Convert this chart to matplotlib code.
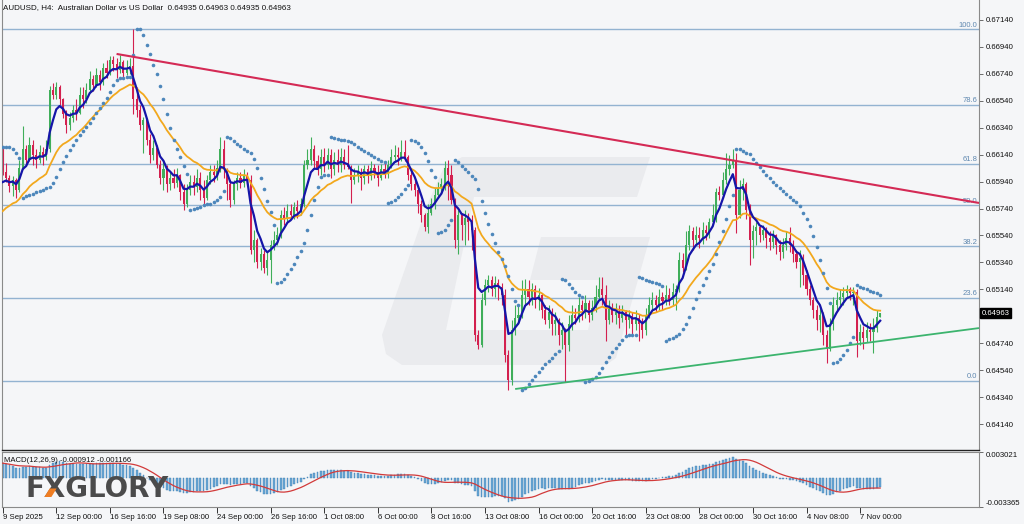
import numpy as np
import pandas as pd
import matplotlib
matplotlib.use("Agg")
import matplotlib.pyplot as plt
from matplotlib.patches import Polygon
from matplotlib.transforms import blended_transform_factory

# ---------------- data (prices in 1e-4 units) ----------------
first_open_x1e4 = 6616
close_x1e4 = [
    6601, 6597, 6591, 6595, 6588, 6604, 6618, 6610, 6621, 6614,
    6610, 6616, 6612, 6618, 6662, 6658, 6664, 6655, 6644, 6636,
    6641, 6647, 6645, 6658, 6655, 6662, 6670, 6666, 6673, 6668,
    6678, 6675, 6684, 6681, 6677, 6683, 6675, 6678, 6680, 6655,
    6647, 6636, 6640, 6625, 6614, 6619, 6606, 6597, 6603, 6592,
    6597, 6593, 6599, 6586, 6577, 6588, 6594, 6590, 6597, 6588,
    6582, 6595, 6601, 6599, 6604, 6618, 6603, 6592, 6580, 6592,
    6597, 6593, 6598, 6595, 6543, 6551, 6534, 6540, 6530, 6536,
    6547, 6551, 6554, 6569, 6567, 6572, 6569, 6575, 6572, 6577,
    6606, 6610, 6618, 6609, 6603, 6612, 6606, 6614, 6603, 6610,
    6606, 6612, 6606, 6605, 6595, 6599, 6601, 6597, 6603, 6598,
    6604, 6601, 6597, 6603, 6600, 6606, 6612, 6614, 6612, 6616,
    6612, 6599, 6592, 6588, 6577, 6569, 6560, 6571, 6577, 6584,
    6589, 6592, 6604, 6599, 6580, 6551, 6569, 6562, 6567, 6564,
    6558, 6480, 6473, 6506, 6517, 6521, 6514, 6519, 6516, 6510,
    6465, 6447, 6484, 6493, 6495, 6510, 6514, 6508, 6514, 6506,
    6510, 6499, 6491, 6497, 6488, 6491, 6480, 6484, 6473, 6488,
    6495, 6493, 6502, 6499, 6504, 6495, 6500, 6508, 6514, 6510,
    6491, 6500, 6495, 6497, 6493, 6497, 6491, 6494, 6488, 6493,
    6488, 6484, 6495, 6502, 6506, 6502, 6508, 6505, 6510, 6506,
    6512, 6514, 6536, 6530, 6547, 6557, 6551, 6554, 6552, 6558,
    6556, 6564, 6569, 6586, 6584, 6595, 6603, 6606, 6610, 6569,
    6588, 6592, 6573, 6551, 6557, 6560, 6554, 6558, 6552, 6549,
    6554, 6547, 6542, 6547, 6552, 6547, 6540, 6534, 6537, 6525,
    6514, 6506, 6499, 6491, 6495, 6480, 6470, 6488, 6502, 6506,
    6508, 6511, 6514, 6511, 6512, 6476, 6482, 6478, 6484, 6482,
    6485, 6493.5, 6496.3]
high_x1e4 = [
    6620, 6608, 6599, 6598, 6597, 6610, 6635, 6621, 6627, 6625,
    6618, 6621, 6620, 6625, 6665, 6667, 6668, 6666, 6656, 6647,
    6646, 6651, 6655, 6664, 6664, 6667, 6676, 6673, 6678, 6677,
    6682, 6684, 6687, 6687, 6686, 6688, 6684, 6684, 6686, 6707,
    6664, 6651, 6642, 6641, 6629, 6625, 6621, 6610, 6609, 6606,
    6601, 6603, 6604, 6600, 6592, 6592, 6599, 6599, 6603, 6601,
    6595, 6599, 6606, 6606, 6610, 6627, 6625, 6604, 6595, 6595,
    6601, 6601, 6603, 6601, 6599, 6558, 6552, 6545, 6543, 6542,
    6551, 6557, 6560, 6573, 6575, 6577, 6577, 6579, 6580, 6582,
    6610, 6618, 6627, 6621, 6614, 6618, 6619, 6619, 6618, 6616,
    6618, 6619, 6618, 6621, 6606, 6604, 6606, 6604, 6606, 6606,
    6609, 6607, 6606, 6607, 6608, 6610, 6618, 6621, 6620, 6625,
    6625, 6614, 6603, 6595, 6589, 6580, 6571, 6577, 6582, 6589,
    6594, 6597, 6609, 6610, 6606, 6582, 6573, 6571, 6573, 6571,
    6569, 6560, 6484, 6511, 6522, 6525, 6524, 6524, 6522, 6519,
    6514, 6469, 6491, 6502, 6502, 6521, 6522, 6521, 6519, 6517,
    6515, 6511, 6502, 6502, 6500, 6497, 6493, 6490, 6485, 6495,
    6502, 6500, 6508, 6506, 6510, 6506, 6506, 6517, 6523, 6523,
    6517, 6506, 6504, 6504, 6502, 6502, 6499, 6499, 6497, 6499,
    6496, 6493, 6500, 6508, 6512, 6510, 6514, 6512, 6517, 6515,
    6519, 6517, 6542, 6541, 6557, 6562, 6560, 6561, 6560, 6564,
    6562, 6567, 6577, 6589, 6591, 6601, 6615, 6614, 6618, 6615,
    6595, 6597, 6594, 6577, 6562, 6564, 6562, 6562, 6560, 6557,
    6558, 6555, 6551, 6552, 6557, 6560, 6551, 6543, 6543, 6540,
    6528, 6517, 6508, 6502, 6500, 6497, 6484, 6493, 6508, 6512,
    6514, 6516, 6517, 6516, 6516, 6514, 6488, 6487, 6490, 6489,
    6493, 6499, 6496.3]
low_x1e4 = [
    6599, 6594, 6586, 6583, 6582, 6586, 6603, 6606, 6609, 6606,
    6604, 6608, 6606, 6610, 6616, 6655, 6655, 6651, 6641, 6630,
    6632, 6638, 6640, 6644, 6649, 6652, 6660, 6661, 6664, 6662,
    6666, 6671, 6673, 6676, 6671, 6675, 6672, 6673, 6674, 6644,
    6642, 6632, 6615, 6621, 6608, 6610, 6604, 6592, 6588, 6586,
    6588, 6589, 6590, 6580, 6573, 6575, 6584, 6584, 6586, 6580,
    6577, 6580, 6592, 6594, 6595, 6601, 6597, 6580, 6575, 6577,
    6588, 6589, 6590, 6592, 6540, 6534, 6530, 6528, 6526, 6525,
    6519, 6543, 6547, 6552, 6562, 6564, 6566, 6566, 6567, 6569,
    6575, 6603, 6606, 6604, 6599, 6599, 6601, 6603, 6597, 6599,
    6601, 6601, 6603, 6603, 6578, 6592, 6594, 6588, 6592, 6593,
    6595, 6597, 6591, 6595, 6597, 6597, 6604, 6609, 6606, 6609,
    6609, 6595, 6588, 6583, 6571, 6564, 6557, 6556, 6569, 6574,
    6582, 6586, 6588, 6580, 6577, 6545, 6540, 6551, 6547, 6551,
    6543, 6476, 6470, 6471, 6502, 6512, 6509, 6508, 6506, 6502,
    6460, 6439, 6443, 6480, 6488, 6493, 6502, 6502, 6502, 6500,
    6499, 6493, 6488, 6485, 6480, 6480, 6473, 6470, 6445, 6468,
    6484, 6488, 6490, 6491, 6493, 6490, 6491, 6497, 6506, 6502,
    6476, 6488, 6490, 6488, 6485, 6490, 6480, 6485, 6480, 6484,
    6476, 6478, 6480, 6493, 6499, 6497, 6499, 6499, 6502, 6502,
    6502, 6499, 6512, 6527, 6528, 6543, 6543, 6547, 6545, 6548,
    6551, 6552, 6562, 6564, 6580, 6582, 6592, 6599, 6604, 6556,
    6567, 6580, 6566, 6532, 6537, 6547, 6549, 6551, 6545, 6543,
    6545, 6540, 6536, 6537, 6543, 6542, 6534, 6530, 6516, 6517,
    6510, 6502, 6493, 6484, 6482, 6473, 6459, 6468, 6484, 6499,
    6502, 6502, 6508, 6506, 6502, 6464, 6473, 6470, 6475, 6476,
    6467, 6482, 6493.5]

time_labels = ["9 Sep 2025", "12 Sep 00:00", "16 Sep 16:00", "19 Sep 08:00",
               "24 Sep 00:00", "26 Sep 16:00", "1 Oct 08:00", "6 Oct 00:00",
               "8 Oct 16:00", "13 Oct 08:00", "16 Oct 00:00", "20 Oct 16:00",
               "23 Oct 08:00", "28 Oct 00:00", "30 Oct 16:00", "4 Nov 08:00",
               "7 Nov 00:00"]
bars_per_label = 16
price_ticks = [0.67140, 0.66940, 0.66740, 0.66540, 0.66340, 0.66140, 0.65940,
               0.65740, 0.65540, 0.65340, 0.65140, 0.64740, 0.64540, 0.64340,
               0.64140]
fib_low, fib_high = 0.64462, 0.67070
fib_levels = [0.0, 23.6, 38.2, 50.0, 61.8, 78.6, 100.0]
red_trend_bars, red_trend_prices = [34, 219], [0.66888, 0.66093]
green_trend_bars, green_trend_prices = [153, 247], [0.64400, 0.64707]
ma_fast_period, ma_slow_period = 5, 20
ma_fast_seed, ma_slow_seed = 0.6590, 0.6569
macd_fast_p, macd_slow_p, macd_sig_p = 12, 26, 9
macd_fast_seed, macd_slow_seed = 0.6594, 0.6576
sar_seed = 0.6620
last_price = 0.64963
macd_range = (-0.003365, 0.003021)
title = "AUDUSD, H4:  Australian Dollar vs US Dollar  0.64935 0.64963 0.64935 0.64963"
macd_title = "MACD(12,26,9) -0.000912 -0.001166"

# ---------------- derived series ----------------
close = np.array(close_x1e4) / 1e4
high = np.array(high_x1e4) / 1e4
low = np.array(low_x1e4) / 1e4
opn = np.concatenate([[first_open_x1e4 / 1e4], close[:-1]])
high = np.maximum(high, np.maximum(opn, close))
low = np.minimum(low, np.minimum(opn, close))
n = len(close)
idx = np.arange(n)


def ema(x, period, seed):
    a = 2.0 / (period + 1)
    out = np.empty(len(x))
    prev = seed
    for i, v in enumerate(x):
        prev = prev + a * (v - prev)
        out[i] = prev
    return out


def psar(h, l, seed, up=False, step=0.02, amax=0.2):
    s_out = np.empty(len(h))
    s_out[0] = seed
    ep = l[0] if not up else h[0]
    af = step
    for i in range(1, len(h)):
        s = s_out[i - 1] + af * (ep - s_out[i - 1])
        if up:
            s = min(s, l[i - 1], l[max(i - 2, 0)])
            if l[i] < s:
                up, s, ep, af = False, ep, l[i], step
            elif h[i] > ep:
                ep, af = h[i], min(af + step, amax)
        else:
            s = max(s, h[i - 1], h[max(i - 2, 0)])
            if h[i] > s:
                up, s, ep, af = True, ep, h[i], step
            elif l[i] < ep:
                ep, af = l[i], min(af + step, amax)
        s_out[i] = s
    return s_out


ma_fast = ema(close, ma_fast_period, ma_fast_seed)
ma_slow = ema(close, ma_slow_period, ma_slow_seed)
macd = ema(close, macd_fast_p, macd_fast_seed) - ema(close, macd_slow_p, macd_slow_seed)
signal = pd.Series(macd).rolling(macd_sig_p, min_periods=1).mean().values
sar = psar(high, low, sar_seed)

# ---------------- figure ----------------
W, H = 1024, 524
BG = "#f5f6f8"
FONT = ["Liberation Sans", "DejaVu Sans"]
plt.rcParams["font.family"] = FONT
fig = plt.figure(figsize=(W / 100, H / 100), dpi=100, facecolor=BG)


def fx(px):
    return px / W


def fy(py):
    return 1 - py / H


ax = fig.add_axes([fx(2), fy(450), fx(979) - fx(2), fy(0) - fy(450)])
ax2 = fig.add_axes([fx(2), fy(507), fx(979) - fx(2), fy(452) - fy(507)], sharex=ax)
for a in (ax, ax2):
    a.set_facecolor("none")
    for sp in a.spines.values():
        sp.set_color("#8a8a8a")
        sp.set_linewidth(0.8)
ax.spines["top"].set_visible(False)
ax.spines["bottom"].set_color("#222222")
ax.spines["bottom"].set_linewidth(1.0)

xmax = 291.5
ax.set_xlim(-0.21, xmax)
ax.set_ylim(0.639470, 0.672885)

# watermark logo (decoration, figure pixel coordinates)
g_px = [(462, 157), (650, 157), (637, 197), (474, 197), (446, 330), (588, 330),
        (600, 280), (530, 280), (541, 237), (650, 237), (616, 358), (606, 365),
        (402, 365), (386, 354), (382, 335), (428, 203), (444, 167)]
ax.add_patch(Polygon([(fx(x), fy(y)) for x, y in g_px], closed=True,
                     transform=fig.transFigure, facecolor="#eaebee",
                     edgecolor="none", zorder=0.5, clip_on=False))

# fibonacci levels
trans_r = blended_transform_factory(ax.transAxes, ax.transData)
for lv in fib_levels:
    p = fib_low + (fib_high - fib_low) * lv / 100.0
    ax.axhline(p, color="#93b3d1", lw=1.0, zorder=1)
    ax.text(0.998, p + 0.00003, f"{lv:.1f}", transform=trans_r, ha="right",
            va="bottom", fontsize=5.5, color="#5f88b0", zorder=1.2)

# candles
bull = close >= opn
col = np.where(bull, "#3fae5a", "#d3204f")
ax.vlines(idx, low, high, colors=col, lw=0.8, zorder=2)
body_bot = np.minimum(opn, close)
body_h = np.maximum(np.abs(close - opn), 0.00003)
ax.bar(idx, body_h, bottom=body_bot, width=0.62, color=col, linewidth=0, zorder=2.1)

# moving averages
ax.plot(idx, ma_slow, color="#f2a81d", lw=1.3, zorder=3)
ax.plot(idx, ma_fast, color="#1515a8", lw=1.6, zorder=3.1)

# parabolic SAR
ax.plot(idx, sar, "o", ms=2.6, color="#4d87bb", mew=0, zorder=3.5)


# trend lines (rays)
def ray(bars, prices):
    slope = (prices[1] - prices[0]) / (bars[1] - bars[0])
    return [bars[0], xmax], [prices[0], prices[0] + slope * (xmax - bars[0])]


rx, ry = ray(red_trend_bars, red_trend_prices)
ax.plot(rx, ry, color="#d42a55", lw=1.5, zorder=4, solid_capstyle="butt")
gx, gy = ray(green_trend_bars, green_trend_prices)
ax.plot(gx, gy, color="#3cb46e", lw=1.3, zorder=4, solid_capstyle="butt")

# right price axis
ax.yaxis.tick_right()
ax.set_yticks(price_ticks)
ax.set_yticklabels([f"{p:.5f}" for p in price_ticks])
ax.tick_params(axis="y", length=3, width=0.6, color="#555555", labelsize=5.6,
               pad=1.5, labelcolor="#111111")
ax.tick_params(axis="x", bottom=False, labelbottom=False)
ax.text(1.003, last_price, f"{last_price:.5f}", transform=trans_r, ha="left",
        va="center", fontsize=5.6, color="white", zorder=6, clip_on=False,
        bbox=dict(boxstyle="square,pad=0.2", fc="black", ec="black"))

# MACD panel
ax2.set_ylim(*macd_range)
ax2.bar(idx, macd, width=0.5, color="#6aa8d6", edgecolor="#3f7fb3",
        linewidth=0.3, zorder=2)
ax2.plot(idx, signal, color="#d23a3a", lw=0.9, zorder=3)
ax2.yaxis.tick_right()
ax2.set_yticks([macd_range[1], macd_range[0]])
ax2.set_yticklabels([f"{macd_range[1]:.6f}", f"{macd_range[0]:.6f}"])
ax2.tick_params(axis="y", length=3, width=0.6, color="#555555", labelsize=5.6,
                pad=1.5, labelcolor="#111111")
tl = ax2.get_yticklabels()
tl[0].set_va("top")
tl[1].set_va("bottom")
tick_bars = [i * bars_per_label for i in range(len(time_labels))]
ax2.set_xticks(tick_bars)
ax2.set_xticklabels(time_labels, ha="left")
ax2.tick_params(axis="x", length=4, width=0.7, color="#333333", labelsize=5.6,
                pad=1, labelcolor="#111111")
ax2.set_xlim(-0.21, xmax)

# texts
fig.text(fx(3), fy(8), title, fontsize=5.8, va="center", ha="left", color="#111111")
fig.text(fx(4), fy(460), macd_title, fontsize=5.6, va="center", ha="left",
         color="#111111", zorder=5)

# FXGLORY logo
logo_x, logo_base = fx(25), fy(497)
logo_kw = dict(fontsize=20, fontweight="bold", family="DejaVu Sans", va="baseline",
               ha="left")
fig.text(logo_x, logo_base, "FXGLORY", color="#4b4b4b", zorder=10, **logo_kw)
fig.canvas.draw()
r = fig.canvas.get_renderer()
tF = fig.text(logo_x, logo_base, "F", alpha=0, **logo_kw)
tFX = fig.text(logo_x, logo_base, "FX", alpha=0, **logo_kw)
eF = tF.get_window_extent(r)
eFX = tFX.get_window_extent(r)
xs, xe = eF.x1, eFX.x1
base_px = logo_base * H
cap = 0.73 * 20 * 100 / 72
pts = [(xs + 0.5, base_px), (xs + 7.5, base_px),
       (xs + 7.5 + 0.42 * cap * 0.62, base_px + 0.42 * cap),
       (xs + 0.5 + 0.42 * cap * 0.62, base_px + 0.42 * cap)]
fig.add_artist(Polygon([(x / W, y / H) for x, y in pts], closed=True,
                       transform=fig.transFigure, facecolor="#ef7d22",
                       edgecolor="none", zorder=11))

fig.savefig("out.png", dpi=100, facecolor=BG)
